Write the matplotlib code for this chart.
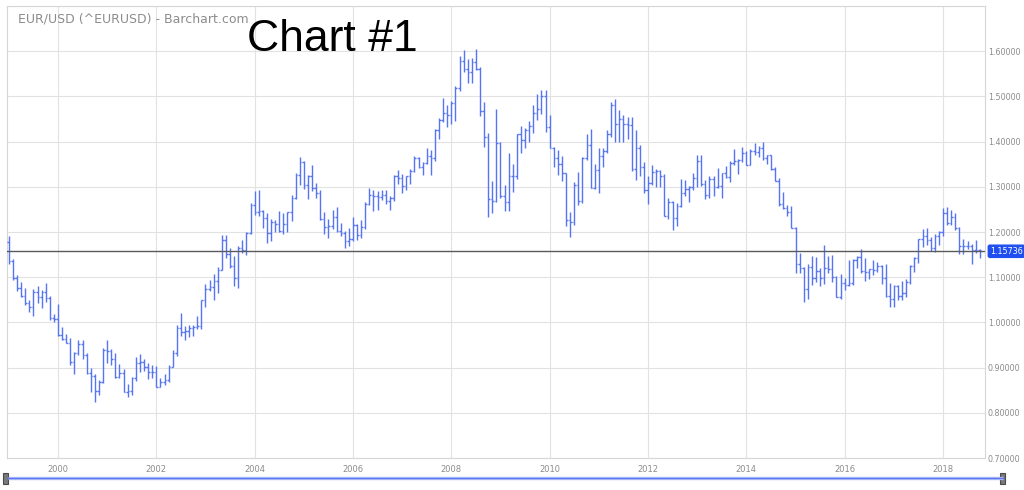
"""
EUR/USD monthly OHLC bars, Jan 1999 - Oct 2018, Barchart style
Output: out.png
"""

import numpy as np
import matplotlib
matplotlib.use("Agg")
import matplotlib.pyplot as plt
import matplotlib.transforms as mtrans
from matplotlib.collections import LineCollection
from matplotlib.patches import Rectangle

START_YEAR = 1999   # first bar = Jan 1999, monthly bars
LAST_PRICE = 1.15736

OPEN = [
    1.1789, 1.1350, 1.0987, 1.0765, 1.0577, 1.0431, 1.0349, 1.0683, 1.0568, 1.0680, 1.0535, 1.0089,
    1.0070, 0.9711, 0.9640, 0.9553, 0.9123, 0.9317, 0.9523, 0.9275, 0.8891, 0.8824, 0.8486, 0.8692,
    0.9388, 0.9372, 0.9200, 0.8783, 0.8874, 0.8450, 0.8472, 0.8761, 0.9109, 0.9117, 0.9013, 0.8896,
    0.8895, 0.8581, 0.8688, 0.8719, 0.9017, 0.9334, 0.9874, 0.9778, 0.9813, 0.9867, 0.9895, 0.9924,
    1.0487, 1.0728, 1.0784, 1.0905, 1.1165, 1.1812, 1.1503, 1.1237, 1.0974, 1.1651, 1.1608, 1.1986,
    1.2597, 1.2440, 1.2472, 1.2320, 1.1971, 1.2230, 1.2180, 1.2024, 1.2183, 1.2439, 1.2757, 1.3271,
    1.3554, 1.3040, 1.3247, 1.2963, 1.2867, 1.2296, 1.2102, 1.2124, 1.2337, 1.2026, 1.1987, 1.1791,
    1.1849, 1.2159, 1.1925, 1.2120, 1.2623, 1.2824, 1.2795, 1.2766, 1.2813, 1.2676, 1.2757, 1.3250,
    1.3199, 1.3026, 1.3231, 1.3357, 1.3648, 1.3449, 1.3536, 1.3686, 1.3634, 1.4267, 1.4488, 1.4632,
    1.4589, 1.4858, 1.5181, 1.5786, 1.5614, 1.5543, 1.5755, 1.5616, 1.4681, 1.4100, 1.2726, 1.2689,
    1.3971, 1.2805, 1.2669, 1.3247, 1.3236, 1.4162, 1.4033, 1.4250, 1.4336, 1.4638, 1.4717, 1.5000,
    1.4321, 1.3868, 1.3628, 1.3510, 1.3302, 1.2271, 1.2230, 1.3050, 1.2687, 1.3630, 1.3923, 1.2983,
    1.3379, 1.3689, 1.3803, 1.4160, 1.4807, 1.4393, 1.4502, 1.4392, 1.4373, 1.3386, 1.3867, 1.3446,
    1.2939, 1.3082, 1.3320, 1.3343, 1.3237, 1.2365, 1.2662, 1.2303, 1.2578, 1.2860, 1.2957, 1.2987,
    1.3193, 1.3579, 1.3056, 1.2818, 1.3167, 1.2995, 1.3008, 1.3300, 1.3222, 1.3525, 1.3580, 1.3591,
    1.3743, 1.3485, 1.3803, 1.3771, 1.3867, 1.3632, 1.3693, 1.3390, 1.3131, 1.2628, 1.2525, 1.2452,
    1.2098, 1.1288, 1.1197, 1.0731, 1.1224, 1.0987, 1.1147, 1.0986, 1.1211, 1.1177, 1.1005, 1.0565,
    1.0861, 1.0829, 1.0873, 1.1380, 1.1453, 1.1130, 1.1106, 1.1175, 1.1157, 1.1241, 1.0981, 1.0589,
    1.0517, 1.0798, 1.0575, 1.0652, 1.0895, 1.1243, 1.1426, 1.1843, 1.1905, 1.1813, 1.1646, 1.1904,
    1.2005, 1.2414, 1.2194, 1.2324, 1.2078, 1.1693, 1.1684, 1.1690, 1.1601, 1.1604,
]
HIGH = [
    1.1904, 1.1400, 1.1040, 1.0890, 1.0760, 1.0500, 1.0750, 1.0800, 1.0720, 1.0880, 1.0590, 1.0180,
    1.0410, 0.9900, 0.9750, 0.9660, 0.9350, 0.9600, 0.9600, 0.9320, 0.9000, 0.8860, 0.8720, 0.9440,
    0.9600, 0.9420, 0.9330, 0.9070, 0.8960, 0.8640, 0.8800, 0.9230, 0.9300, 0.9200, 0.9100, 0.9050,
    0.9040, 0.8780, 0.8850, 0.9060, 0.9380, 0.9940, 1.0200, 0.9930, 0.9950, 0.9950, 1.0150, 1.0500,
    1.0860, 1.0930, 1.1080, 1.1230, 1.1930, 1.1940, 1.1650, 1.1460, 1.1690, 1.1830, 1.2010, 1.2650,
    1.2900, 1.2930, 1.2480, 1.2430, 1.2280, 1.2270, 1.2460, 1.2430, 1.2450, 1.2820, 1.3310, 1.3670,
    1.3580, 1.3260, 1.3480, 1.3080, 1.2940, 1.2440, 1.2280, 1.2480, 1.2550, 1.2190, 1.2020, 1.2090,
    1.2330, 1.2180, 1.2260, 1.2660, 1.2980, 1.2940, 1.2900, 1.2920, 1.2930, 1.2800, 1.3270, 1.3370,
    1.3280, 1.3240, 1.3390, 1.3680, 1.3650, 1.3550, 1.3850, 1.3820, 1.4280, 1.4520, 1.4970, 1.4800,
    1.4890, 1.5240, 1.5900, 1.6020, 1.5820, 1.5840, 1.6038, 1.5640, 1.4870, 1.4190, 1.3130, 1.4720,
    1.4000, 1.3050, 1.3740, 1.3500, 1.4170, 1.4340, 1.4310, 1.4450, 1.4800, 1.5060, 1.5140, 1.5140,
    1.4580, 1.3880, 1.3820, 1.3690, 1.3310, 1.2450, 1.3100, 1.3330, 1.3670, 1.4160, 1.4280, 1.3500,
    1.3860, 1.3860, 1.4250, 1.4880, 1.4940, 1.4700, 1.4580, 1.4550, 1.4550, 1.4250, 1.3920, 1.3550,
    1.3230, 1.3490, 1.3390, 1.3380, 1.3280, 1.2750, 1.2680, 1.2640, 1.3170, 1.3140, 1.3010, 1.3310,
    1.3700, 1.3710, 1.3140, 1.3240, 1.3240, 1.3420, 1.3310, 1.3450, 1.3570, 1.3830, 1.3620, 1.3890,
    1.3800, 1.3830, 1.3970, 1.3910, 1.3990, 1.3700, 1.3700, 1.3440, 1.3200, 1.2890, 1.2600, 1.2570,
    1.2110, 1.1530, 1.1230, 1.1290, 1.1470, 1.1440, 1.1210, 1.1710, 1.1460, 1.1500, 1.1020, 1.1060,
    1.0990, 1.1380, 1.1400, 1.1460, 1.1620, 1.1430, 1.1190, 1.1370, 1.1330, 1.1260, 1.1300, 1.0880,
    1.0830, 1.0830, 1.0910, 1.0950, 1.1270, 1.1450, 1.1850, 1.2070, 1.2090, 1.1880, 1.1960, 1.2020,
    1.2540, 1.2560, 1.2480, 1.2410, 1.2100, 1.1850, 1.1790, 1.1740, 1.1820, 1.1620,
]
LOW = [
    1.1300, 1.0930, 1.0690, 1.0560, 1.0380, 1.0240, 1.0150, 1.0420, 1.0320, 1.0460, 1.0050, 1.0000,
    0.9700, 0.9600, 0.9550, 0.9050, 0.8850, 0.9270, 0.9200, 0.8850, 0.8450, 0.8228, 0.8400, 0.8660,
    0.9100, 0.9060, 0.8770, 0.8770, 0.8450, 0.8350, 0.8400, 0.8700, 0.8910, 0.8920, 0.8740, 0.8760,
    0.8580, 0.8560, 0.8610, 0.8680, 0.9010, 0.9260, 0.9700, 0.9620, 0.9680, 0.9700, 0.9860, 0.9860,
    1.0340, 1.0690, 1.0500, 1.0650, 1.1160, 1.1420, 1.1200, 1.0800, 1.0770, 1.1540, 1.1500, 1.1960,
    1.2380, 1.2360, 1.2080, 1.1760, 1.1800, 1.1990, 1.2000, 1.1950, 1.2000, 1.2240, 1.2730, 1.3030,
    1.2960, 1.2730, 1.2900, 1.2750, 1.2270, 1.1960, 1.1870, 1.2070, 1.2000, 1.1910, 1.1640, 1.1700,
    1.1800, 1.1830, 1.1860, 1.2060, 1.2600, 1.2460, 1.2480, 1.2700, 1.2620, 1.2480, 1.2690, 1.3060,
    1.2870, 1.2930, 1.3070, 1.3320, 1.3410, 1.3260, 1.3510, 1.3260, 1.3580, 1.4050, 1.4430, 1.4320,
    1.4400, 1.4450, 1.5110, 1.5530, 1.5290, 1.5290, 1.5580, 1.4560, 1.3880, 1.2330, 1.2420, 1.2670,
    1.2750, 1.2460, 1.2460, 1.2880, 1.3170, 1.3750, 1.3850, 1.4000, 1.4200, 1.4480, 1.4620, 1.4220,
    1.3860, 1.3440, 1.3270, 1.3120, 1.2140, 1.1880, 1.2150, 1.2590, 1.2640, 1.3600, 1.2970, 1.2950,
    1.2870, 1.3430, 1.3750, 1.4100, 1.4000, 1.4000, 1.4000, 1.4050, 1.3360, 1.3150, 1.3250, 1.2860,
    1.2620, 1.3030, 1.3000, 1.3000, 1.2350, 1.2290, 1.2040, 1.2130, 1.2550, 1.2800, 1.2660, 1.2920,
    1.2990, 1.3010, 1.2740, 1.2750, 1.2790, 1.2980, 1.2750, 1.3190, 1.3100, 1.3480, 1.3290, 1.3550,
    1.3480, 1.3480, 1.3700, 1.3670, 1.3590, 1.3500, 1.3380, 1.3120, 1.2570, 1.2500, 1.2360, 1.2090,
    1.1100, 1.1100, 1.0460, 1.0520, 1.0820, 1.0890, 1.0810, 1.0850, 1.1090, 1.0900, 1.0560, 1.0520,
    1.0710, 1.0810, 1.0820, 1.1210, 1.1100, 1.0910, 1.0950, 1.1050, 1.1120, 1.0850, 1.0570, 1.0350,
    1.0340, 1.0490, 1.0490, 1.0570, 1.0840, 1.1120, 1.1310, 1.1660, 1.1720, 1.1570, 1.1550, 1.1720,
    1.1920, 1.2150, 1.2150, 1.2050, 1.1510, 1.1510, 1.1620, 1.1300, 1.1530, 1.1430,
]
CLOSE = [
    1.1350, 1.0987, 1.0765, 1.0577, 1.0431, 1.0349, 1.0683, 1.0568, 1.0680, 1.0535, 1.0089, 1.0070,
    0.9711, 0.9640, 0.9553, 0.9123, 0.9317, 0.9523, 0.9275, 0.8891, 0.8824, 0.8486, 0.8692, 0.9388,
    0.9372, 0.9200, 0.8783, 0.8874, 0.8450, 0.8472, 0.8761, 0.9109, 0.9117, 0.9013, 0.8896, 0.8895,
    0.8581, 0.8688, 0.8719, 0.9017, 0.9334, 0.9874, 0.9778, 0.9813, 0.9867, 0.9895, 0.9924, 1.0487,
    1.0728, 1.0784, 1.0905, 1.1165, 1.1812, 1.1503, 1.1237, 1.0974, 1.1651, 1.1608, 1.1986, 1.2597,
    1.2440, 1.2472, 1.2320, 1.1971, 1.2230, 1.2180, 1.2024, 1.2183, 1.2439, 1.2757, 1.3271, 1.3554,
    1.3040, 1.3247, 1.2963, 1.2867, 1.2296, 1.2102, 1.2124, 1.2337, 1.2026, 1.1987, 1.1791, 1.1849,
    1.2159, 1.1925, 1.2120, 1.2623, 1.2824, 1.2795, 1.2766, 1.2813, 1.2676, 1.2757, 1.3250, 1.3199,
    1.3026, 1.3231, 1.3357, 1.3648, 1.3449, 1.3536, 1.3686, 1.3634, 1.4267, 1.4488, 1.4632, 1.4589,
    1.4858, 1.5181, 1.5786, 1.5614, 1.5543, 1.5755, 1.5616, 1.4681, 1.4100, 1.2726, 1.2689, 1.3971,
    1.2805, 1.2669, 1.3247, 1.3236, 1.4162, 1.4033, 1.4250, 1.4336, 1.4638, 1.4717, 1.5000, 1.4321,
    1.3868, 1.3628, 1.3510, 1.3302, 1.2271, 1.2230, 1.3050, 1.2687, 1.3630, 1.3923, 1.2983, 1.3379,
    1.3689, 1.3803, 1.4160, 1.4807, 1.4393, 1.4502, 1.4392, 1.4373, 1.3386, 1.3867, 1.3446, 1.2939,
    1.3082, 1.3320, 1.3343, 1.3237, 1.2365, 1.2662, 1.2303, 1.2578, 1.2860, 1.2957, 1.2987, 1.3193,
    1.3579, 1.3056, 1.2818, 1.3167, 1.2995, 1.3008, 1.3300, 1.3222, 1.3525, 1.3580, 1.3591, 1.3743,
    1.3485, 1.3803, 1.3771, 1.3867, 1.3632, 1.3693, 1.3390, 1.3131, 1.2628, 1.2525, 1.2452, 1.2098,
    1.1288, 1.1197, 1.0731, 1.1224, 1.0987, 1.1147, 1.0986, 1.1211, 1.1177, 1.1005, 1.0565, 1.0861,
    1.0829, 1.0873, 1.1380, 1.1453, 1.1130, 1.1106, 1.1175, 1.1157, 1.1241, 1.0981, 1.0589, 1.0517,
    1.0798, 1.0575, 1.0652, 1.0895, 1.1243, 1.1426, 1.1843, 1.1905, 1.1813, 1.1646, 1.1904, 1.2005,
    1.2414, 1.2194, 1.2324, 1.2078, 1.1693, 1.1684, 1.1690, 1.1601, 1.1604, 1.1574,
]

YEAR_TICKS = [2000, 2002, 2004, 2006, 2008, 2010, 2012, 2014, 2016, 2018]
PRICE_TICKS = [0.7, 0.8, 0.9, 1.0, 1.1, 1.2, 1.3, 1.4, 1.5, 1.6, 1.7]

BAR_COLOR  = "#5675f3"
GRID_COLOR = "#e2e2e2"
TEXT_COLOR = "#8c8c8c"

# ── bars ──────────────────────────────────────────────────────────────────────
n = len(CLOSE)
x = START_YEAR + np.arange(n) / 12.0
d = 0.4 / 12.0

fig = plt.figure(figsize=(10.24, 4.90), dpi=100, facecolor="white")
ax = fig.add_axes([7 / 1024, 32 / 490, 978 / 1024, 452 / 490])

segs = []
for xi, o, h, l, c in zip(x, OPEN, HIGH, LOW, CLOSE):
    segs.append([(xi, l), (xi, h)])
    segs.append([(xi - d, o), (xi, o)])
    segs.append([(xi, c), (xi + d, c)])
ax.add_collection(LineCollection(segs, colors=BAR_COLOR, linewidths=1.0, zorder=3))

ax.set_xlim(1998.963, 2018.854)
ax.set_ylim(0.7, 1.7)

# last price line + label
ax.axhline(LAST_PRICE, color="#5a5a5a", linewidth=1.0, zorder=4)
trans = mtrans.blended_transform_factory(ax.transAxes, ax.transData)
ax.text(1.005, LAST_PRICE, "1.15736", transform=trans, fontsize=5.8,
        color="white", va="center", ha="left", clip_on=False,
        bbox=dict(boxstyle="round,pad=0.2", fc="#1f4ff0", ec="#1f4ff0"))

# axes styling
ax.set_xticks(YEAR_TICKS)
ax.set_xticklabels([str(y) for y in YEAR_TICKS])
ax.set_yticks(PRICE_TICKS)
ax.set_yticklabels([f"{v:.5f}" for v in PRICE_TICKS[:-1]] + [""])
ax.yaxis.tick_right()
ax.tick_params(axis="y", length=0, pad=2, labelsize=5.8, labelcolor=TEXT_COLOR)
ax.tick_params(axis="x", length=0, pad=5, labelsize=6, labelcolor=TEXT_COLOR)
ax.grid(True, color=GRID_COLOR, linewidth=0.8, zorder=0)
ax.set_axisbelow(True)
for side, sp in ax.spines.items():
    sp.set_color("#d6d6d6")
    sp.set_linewidth(0.8)

# titles
fig.text(18 / 1024, 1 - 19 / 490, "EUR/USD (^EURUSD) - Barchart.com",
         fontsize=9, color=TEXT_COLOR, va="center", ha="left")
fig.text(247 / 1024, 1 - 51 / 490, "Chart #1", fontsize=32, color="black",
         family="Liberation Sans", va="baseline", ha="left")

# navigator strip at the bottom
nav = fig.add_axes([0, 0, 1, 22 / 490])
nav.set_xlim(0, 1024)
nav.set_ylim(22, 0)
nav.axis("off")
nav.plot([8, 1003], [10, 10], color="#a9b8f7", linewidth=2.4, solid_capstyle="butt")
nav.plot([8, 1003], [10, 10], color="#5b78f0", linewidth=0.8)
for hx in (3, 1000):
    nav.add_patch(Rectangle((hx, 5), 5, 11, fc="#7a7a7a", ec="#4a4a4a", lw=0.8))

fig.savefig("out.png", dpi=100, facecolor="white")
